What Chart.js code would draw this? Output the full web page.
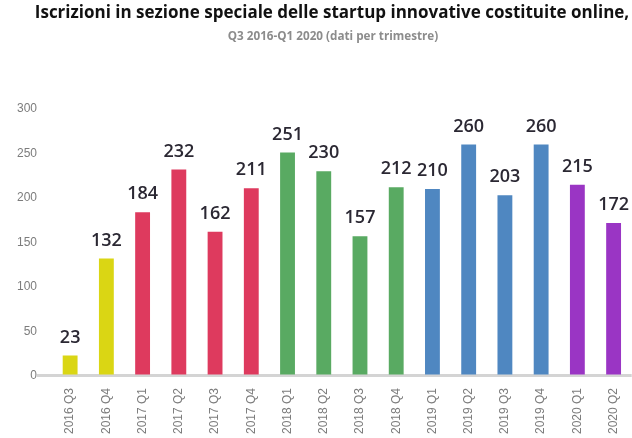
<!DOCTYPE html>
<html lang="it">
<head>
  <meta charset="UTF-8">
  <title>Startup innovative costituite online</title>
  <style>
    html, body { margin: 0; padding: 0; background: #fff; overflow: hidden; }
    .wrap { position: relative; width: 632px; height: 438px; }
    .title { position: absolute; top: 0px; left: 332px; transform: translateX(-50%); white-space: nowrap;
      font-family: "Open Sans", sans-serif; font-weight: bold; font-size: 17px; color: #111; }
    .subtitle { position: absolute; top: 27px; left: 333px; transform: translateX(-50%); white-space: nowrap;
      font-family: "Open Sans", sans-serif; font-weight: bold; font-size: 11.7px; color: #8c8c8c; }
    #chart { position: absolute; left: 0; top: 0; }
  </style>
  <script src="https://cdn.jsdelivr.net/npm/chart.js"></script>
</head>
<body>
  <div class="wrap">
    <canvas id="chart" width="632" height="438"></canvas>
    <div class="title">Iscrizioni in sezione speciale delle startup innovative costituite online,</div>
    <div class="subtitle">Q3 2016-Q1 2020 (dati per trimestre)</div>
  </div>
  <script>
    const quarters = ['2016 Q3', '2016 Q4', '2017 Q1', '2017 Q2', '2017 Q3', '2017 Q4', '2018 Q1', '2018 Q2',
                      '2018 Q3', '2018 Q4', '2019 Q1', '2019 Q2', '2019 Q3', '2019 Q4', '2020 Q1', '2020 Q2'];
    const iscrizioni = [23, 132, 184, 232, 162, 211, 251, 230, 157, 212, 210, 260, 203, 260, 215, 172];
    const yearColors = { '2016': '#dad614', '2017': '#de3a5e', '2018': '#59aa62', '2019': '#4f87c1', '2020': '#9a35c4' };
    const yTicks = [0, 50, 100, 150, 200, 250, 300];

    // value labels above each bar
    const valueLabels = {
      id: 'valueLabels',
      afterDatasetsDraw(chart) {
        const ctx = chart.ctx;
        const meta = chart.getDatasetMeta(0);
        ctx.save();
        ctx.font = '600 18px "Open Sans", sans-serif';
        ctx.fillStyle = '#2b2833';
        ctx.textAlign = 'center';
        ctx.textBaseline = 'bottom';
        meta.data.forEach((bar, i) => {
          ctx.fillText(iscrizioni[i], bar.x, bar.y - 9);
        });
        ctx.restore();
      }
    };

    new Chart(document.getElementById('chart'), {
      type: 'bar',
      data: {
        labels: quarters,
        datasets: [{
          data: iscrizioni,
          backgroundColor: quarters.map(q => yearColors[q.slice(0, 4)]),
          barPercentage: 0.41,
          categoryPercentage: 1
        }]
      },
      options: {
        responsive: false,
        animation: false,
        layout: { padding: { top: 109, left: 17, right: 0, bottom: 0 } },
        plugins: { legend: { display: false }, tooltip: { enabled: false } },
        scales: {
          x: {
            grid: { display: false },
            border: { display: false },
            ticks: {
              color: '#7c7c7c',
              font: { family: 'Liberation Sans, Arial, sans-serif', size: 12 },
              minRotation: 90, maxRotation: 90, padding: 4
            }
          },
          y: {
            min: 0, max: 300,
            afterBuildTicks: axis => { axis.ticks = yTicks.map(v => ({ value: v })); },
            border: { display: false },
            grid: {
              color: c => c.tick && c.tick.value === 0 ? '#d4d4d4' : 'rgba(0,0,0,0)',
              lineWidth: 3,
              tickLength: 15
            },
            ticks: {
              color: '#7c7c7c',
              font: { family: 'Liberation Sans, Arial, sans-serif', size: 12 },
              padding: 0
            }
          }
        }
      },
      plugins: [valueLabels]
    });
  </script>
</body>
</html>
